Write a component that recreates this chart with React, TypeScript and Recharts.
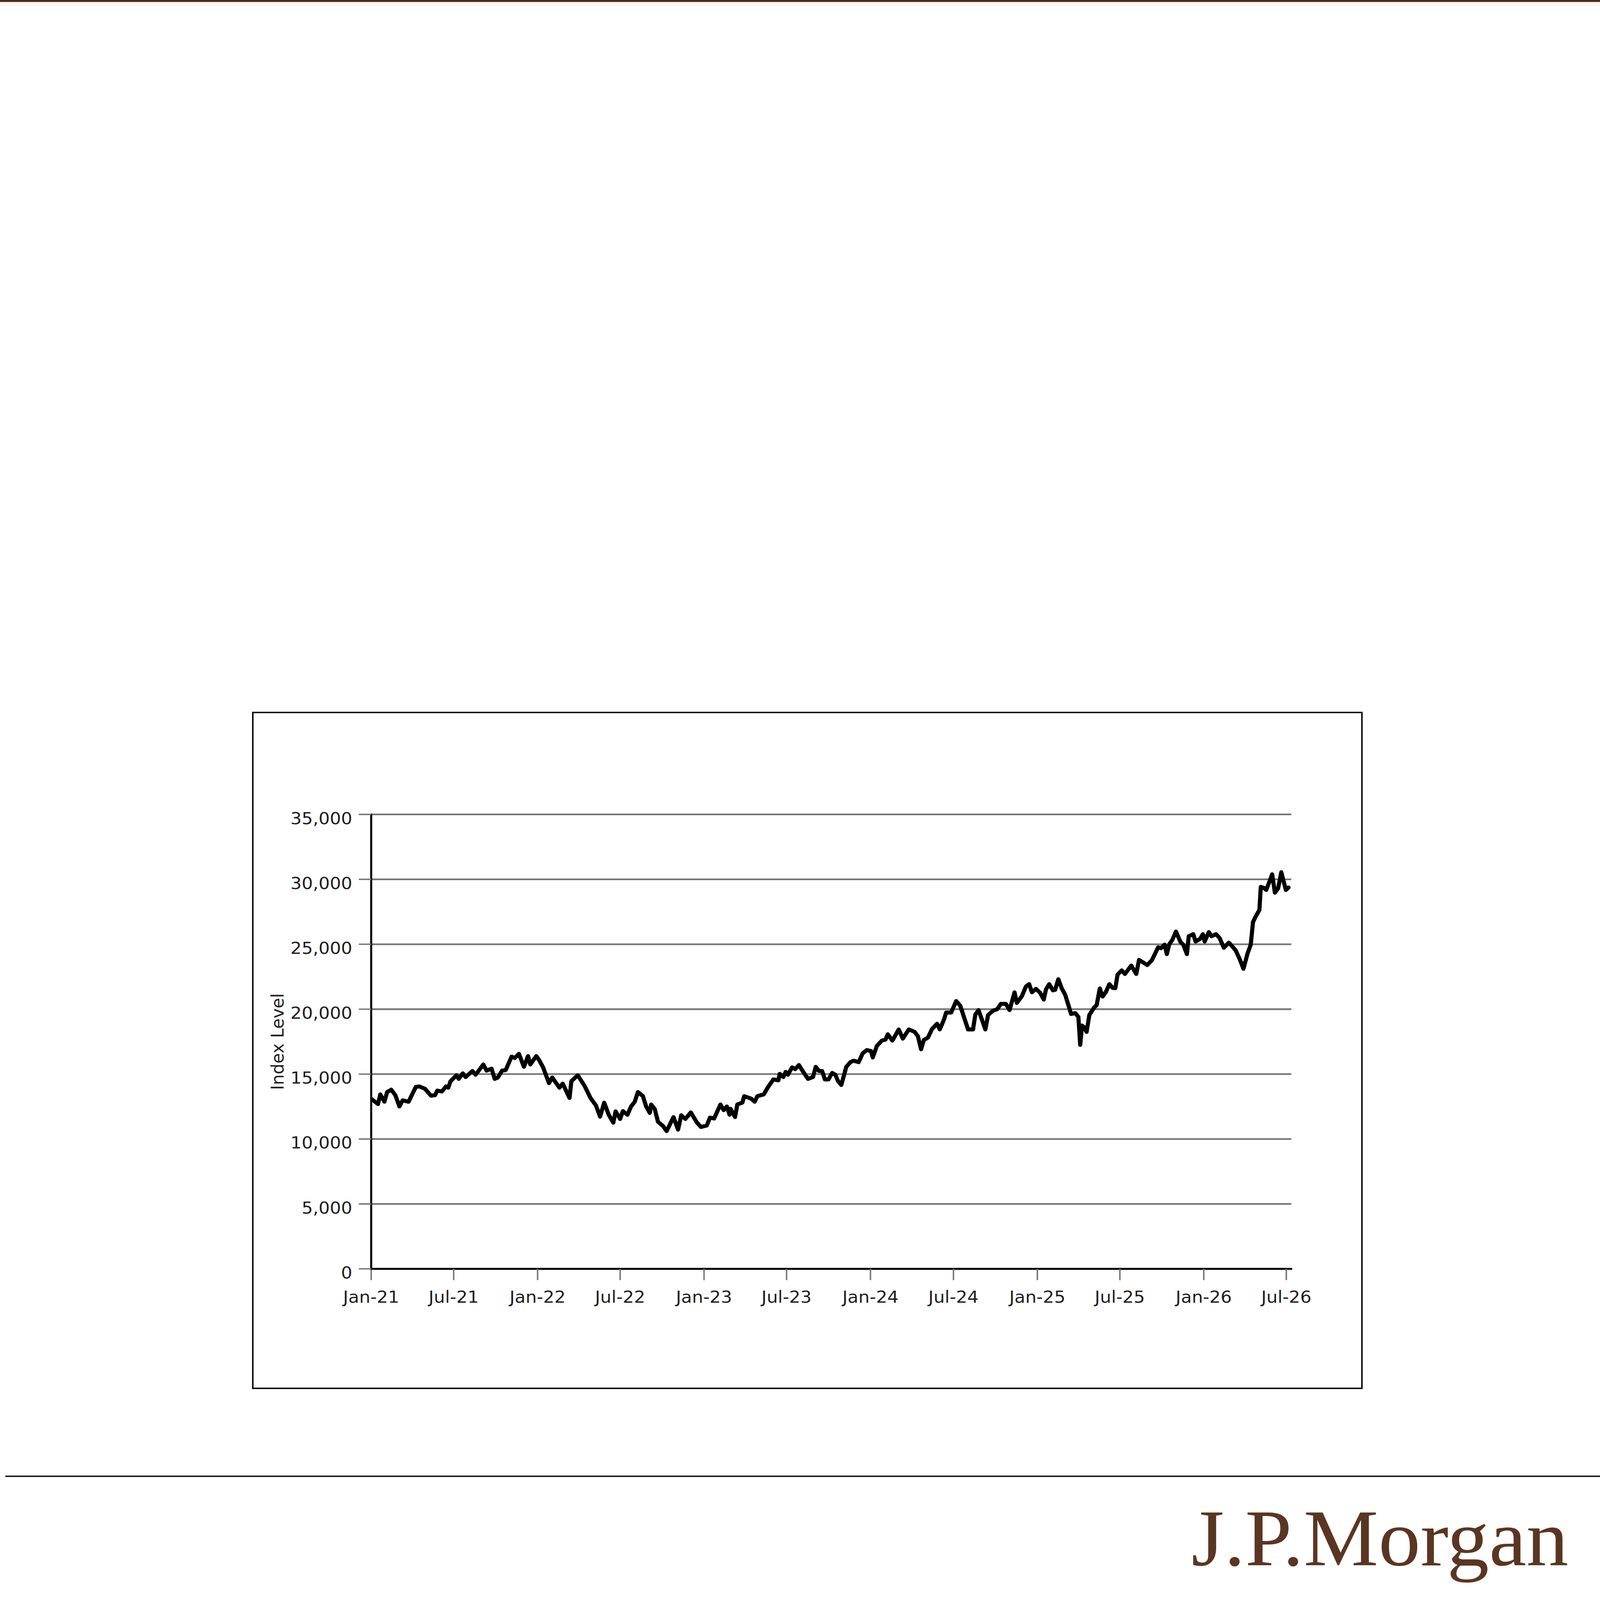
import React from 'react';
import { LineChart, Line, XAxis, YAxis, CartesianGrid } from 'recharts';

const dates = [
  '2021-01-01','2021-01-16','2021-01-21','2021-01-30','2021-02-05','2021-02-14','2021-02-23','2021-03-04','2021-03-11','2021-03-24',
  '2021-04-09','2021-04-17','2021-04-29','2021-05-12','2021-05-21','2021-05-26','2021-06-05','2021-06-14','2021-06-19','2021-06-24',
  '2021-07-07','2021-07-12','2021-07-21','2021-07-27','2021-08-11','2021-08-18','2021-09-04','2021-09-11','2021-09-22','2021-09-29',
  '2021-10-06','2021-10-15','2021-10-23','2021-11-05','2021-11-12','2021-11-21','2021-12-02','2021-12-11','2021-12-16','2021-12-29',
  '2022-01-04','2022-01-13','2022-01-26','2022-02-02','2022-02-18','2022-02-25','2022-03-12','2022-03-16','2022-03-30','2022-04-14',
  '2022-04-27','2022-05-09','2022-05-18','2022-05-27','2022-06-06','2022-06-16','2022-06-21','2022-07-01','2022-07-07','2022-07-17',
  '2022-07-25','2022-08-02','2022-08-09','2022-08-20','2022-08-27','2022-09-04','2022-09-07','2022-09-15','2022-09-22','2022-10-03',
  '2022-10-11','2022-10-26','2022-11-05','2022-11-12','2022-11-21','2022-12-03','2022-12-16','2022-12-25',
  '2023-01-07','2023-01-14','2023-01-23','2023-02-06','2023-02-13','2023-02-20','2023-02-26','2023-02-28','2023-03-10','2023-03-15',
  '2023-03-26','2023-03-30','2023-04-14','2023-04-22','2023-04-28','2023-05-12','2023-05-21','2023-06-02','2023-06-13','2023-06-16',
  '2023-06-24','2023-06-29','2023-07-04','2023-07-13','2023-07-20','2023-07-28','2023-08-06','2023-08-17','2023-08-28','2023-09-03',
  '2023-09-10','2023-09-17','2023-09-23','2023-10-01','2023-10-09','2023-10-16','2023-10-22','2023-10-29','2023-11-09','2023-11-18',
  '2023-11-25','2023-12-06','2023-12-15','2023-12-24',
  '2024-01-02','2024-01-06','2024-01-15','2024-01-26','2024-02-03','2024-02-08','2024-02-18','2024-03-03','2024-03-12','2024-03-25',
  '2024-04-07','2024-04-14','2024-04-21','2024-04-27','2024-05-06','2024-05-15','2024-05-26','2024-06-01','2024-06-10','2024-06-15',
  '2024-06-26','2024-07-07','2024-07-16','2024-08-02','2024-08-13','2024-08-18','2024-08-25','2024-09-09','2024-09-15','2024-09-26',
  '2024-10-05','2024-10-13','2024-10-24','2024-11-01','2024-11-12','2024-11-17','2024-11-28','2024-12-07','2024-12-14','2024-12-20',
  '2024-12-29',
  '2025-01-07','2025-01-15','2025-01-20','2025-01-27','2025-02-04','2025-02-09','2025-02-16','2025-02-24','2025-03-03','2025-03-16',
  '2025-03-25','2025-04-01','2025-04-05','2025-04-09','2025-04-14','2025-04-19','2025-04-25','2025-05-06','2025-05-11','2025-05-18',
  '2025-05-24','2025-05-31','2025-06-08','2025-06-15','2025-06-21','2025-06-26','2025-07-05','2025-07-12','2025-07-26','2025-08-06',
  '2025-08-12','2025-08-30','2025-09-09','2025-09-23','2025-09-29','2025-10-07','2025-10-12','2025-10-17','2025-10-24','2025-11-01',
  '2025-11-11','2025-11-17','2025-11-25','2025-11-29','2025-12-09','2025-12-14','2025-12-24','2025-12-30',
  '2026-01-03','2026-01-12','2026-01-18','2026-01-28','2026-02-05','2026-02-14','2026-02-25','2026-03-05','2026-03-12','2026-03-21',
  '2026-03-29','2026-04-07','2026-04-14','2026-04-19','2026-04-25','2026-05-03','2026-05-06','2026-05-13','2026-05-18','2026-05-25',
  '2026-05-31','2026-06-06','2026-06-13','2026-06-20','2026-06-30','2026-07-06',
];

const values = [
  13100,12690,13440,12870,13620,13800,13370,12510,12980,12870,
  14020,14050,13870,13340,13370,13730,13660,14050,13950,14450,
  14910,14630,15060,14770,15240,14950,15740,15270,15420,14630,
  14740,15270,15310,16350,16240,16560,15560,16390,15740,16390,
  16100,15520,14300,14740,13950,14270,13160,14450,14910,14090,
  13160,12580,11720,12800,11870,11260,12130,11540,12150,11870,
  12510,12870,13620,13300,12510,12010,12660,12300,11330,11000,
  10610,11690,10720,11830,11540,12050,11290,10930,
  11040,11650,11580,12660,12220,12510,11870,12330,11690,12660,
  12800,13300,13120,12870,13300,13440,13980,14590,14520,15020,
  14770,15170,14950,15520,15380,15700,15200,14630,14770,15560,
  15240,15240,14590,14590,15090,14950,14450,14160,15560,15920,
  16030,15920,16600,16850,
  16780,16280,17170,17580,17660,18070,17580,18440,17730,18440,
  18250,17920,16910,17620,17810,18470,18880,18440,19180,19740,
  19740,20630,20260,18440,18440,19590,19930,18440,19550,19890,
  20000,20410,20410,19930,21300,20480,21000,21750,21930,21300,
  21560,
  21270,20740,21530,21930,21450,21490,22310,21560,21120,19630,
  19700,19400,17250,18740,18590,18250,19550,20150,20300,21600,
  20970,21300,21930,21640,21620,22670,22990,22710,23360,22710,
  23800,23400,23760,24770,24690,24970,24240,24970,25340,25980,
  25170,24970,24240,25620,25780,25210,25420,25780,
  25210,25940,25620,25780,25460,24730,25130,24810,24530,23840,
  23110,24290,24970,26710,27150,27640,29420,29340,29180,29820,
  30390,28970,29300,30550,29180,29380,
];

const xTickDates = [
  '2021-01-01','2021-07-01','2022-01-01','2022-07-01','2023-01-01','2023-07-01',
  '2024-01-01','2024-07-01','2025-01-01','2025-07-01','2026-01-01','2026-07-01',
];
const xTickLabels = [
  'Jan-21','Jul-21','Jan-22','Jul-22','Jan-23','Jul-23',
  'Jan-24','Jul-24','Jan-25','Jul-25','Jan-26','Jul-26',
];
const yTicks = [0, 5000, 10000, 15000, 20000, 25000, 30000, 35000];
const yTickLabels = ['0', '5,000', '10,000', '15,000', '20,000', '25,000', '30,000', '35,000'];
const yAxisTitle = 'Index Level';
const xDomainStart = '2021-01-01';
const xDomainEnd = '2026-07-12';
const brandName = 'J.P.Morgan';

const data = dates.map((d, i) => ({ t: Date.parse(d), v: values[i] }));
const xTickTimes = xTickDates.map((d) => Date.parse(d));

const PAGE_W = 5427;
const PAGE_H = 5658;
const AXIS_FONT = '"DejaVu Sans", Verdana, sans-serif';
const TEXT_COLOR = '#1e1e1e';

const XTick = (props: any) => {
  const { x, y, payload } = props;
  const idx = xTickTimes.indexOf(payload.value);
  return (
    <text x={x} y={y + 80} textAnchor="middle" fontSize={60} fontFamily={AXIS_FONT} fill={TEXT_COLOR}>
      {idx >= 0 ? xTickLabels[idx] : ''}
    </text>
  );
};

const YTick = (props: any) => {
  const { x, y, payload } = props;
  const idx = yTicks.indexOf(payload.value);
  return (
    <text x={x} y={y + 34} textAnchor="end" fontSize={60} fontFamily={AXIS_FONT} fill={TEXT_COLOR}>
      {idx >= 0 ? yTickLabels[idx] : ''}
    </text>
  );
};

export default function App() {
  const vw = typeof window !== 'undefined' && window.innerWidth ? window.innerWidth : PAGE_W;
  const vh = typeof window !== 'undefined' && window.innerHeight ? window.innerHeight : PAGE_H;
  const sx = Math.min(1, vw / PAGE_W);
  const sy = Math.min(1, vh / PAGE_H);

  return (
    <div style={{ position: 'fixed', left: 0, top: 0, width: vw, height: vh, overflow: 'hidden', background: '#fff' }}>
      <div
        style={{
          position: 'absolute',
          left: 0,
          top: 0,
          width: PAGE_W,
          height: PAGE_H,
          background: '#fff',
          transform: `scale(${sx}, ${sy})`,
          transformOrigin: '0 0',
        }}
      >
        <div style={{ position: 'absolute', left: 0, top: 0, width: PAGE_W, height: 7, background: '#4a2c17' }} />
        <div style={{ position: 'absolute', left: 0, top: 7, width: PAGE_W, height: 18, background: 'linear-gradient(#f7efe6, #ffffff)' }} />

        <div
          style={{
            position: 'absolute',
            left: 855,
            top: 2517,
            width: 3767,
            height: 2395,
            border: '5px solid #000',
            boxSizing: 'border-box',
          }}
        />
        <div style={{ position: 'absolute', left: 855, top: 2517, width: 3767, height: 2395 }}>
          <LineChart width={3767} height={2395} data={data} margin={{ top: 363, right: 242, bottom: 225, left: 104 }}>
            <CartesianGrid vertical={false} stroke="#747474" strokeWidth={6} />
            <XAxis
              dataKey="t"
              type="number"
              domain={[Date.parse(xDomainStart), Date.parse(xDomainEnd)]}
              ticks={xTickTimes}
              interval={0}
              height={200}
              tickSize={40}
              tickMargin={0}
              tick={<XTick />}
              axisLine={{ stroke: '#000', strokeWidth: 7, strokeLinecap: 'round' }}
              tickLine={{ stroke: '#777', strokeWidth: 5 }}
              allowDataOverflow
            />
            <YAxis
              type="number"
              domain={[0, 35000]}
              ticks={yTicks}
              interval={0}
              width={300}
              tickSize={42}
              tickMargin={22}
              tick={<YTick />}
              axisLine={{ stroke: '#000', strokeWidth: 7, strokeLinecap: 'round' }}
              tickLine={{ stroke: '#777', strokeWidth: 5 }}
              label={{
                value: yAxisTitle,
                angle: -90,
                position: 'insideLeft',
                offset: -19,
                style: { textAnchor: 'middle', fontSize: 60, fontFamily: AXIS_FONT, fill: TEXT_COLOR },
              }}
            />
            <Line
              type="linear"
              dataKey="v"
              stroke="#000"
              strokeWidth={14}
              strokeLinejoin="round"
              strokeLinecap="round"
              dot={false}
              activeDot={false}
              isAnimationActive={false}
            />
          </LineChart>
        </div>

        <div style={{ position: 'absolute', left: 18, top: 5218, width: 5409, height: 5, background: '#111' }} />

        <svg style={{ position: 'absolute', left: 0, top: 5200 }} width={PAGE_W} height={458}>
          <text
            x={4041}
            y={335}
            fontFamily='"Liberation Serif", "Times New Roman", serif'
            fontSize={285}
            fill="#5a3622"
            textLength={1279}
            lengthAdjust="spacingAndGlyphs"
          >
            {brandName}
          </text>
        </svg>
      </div>
    </div>
  );
}
